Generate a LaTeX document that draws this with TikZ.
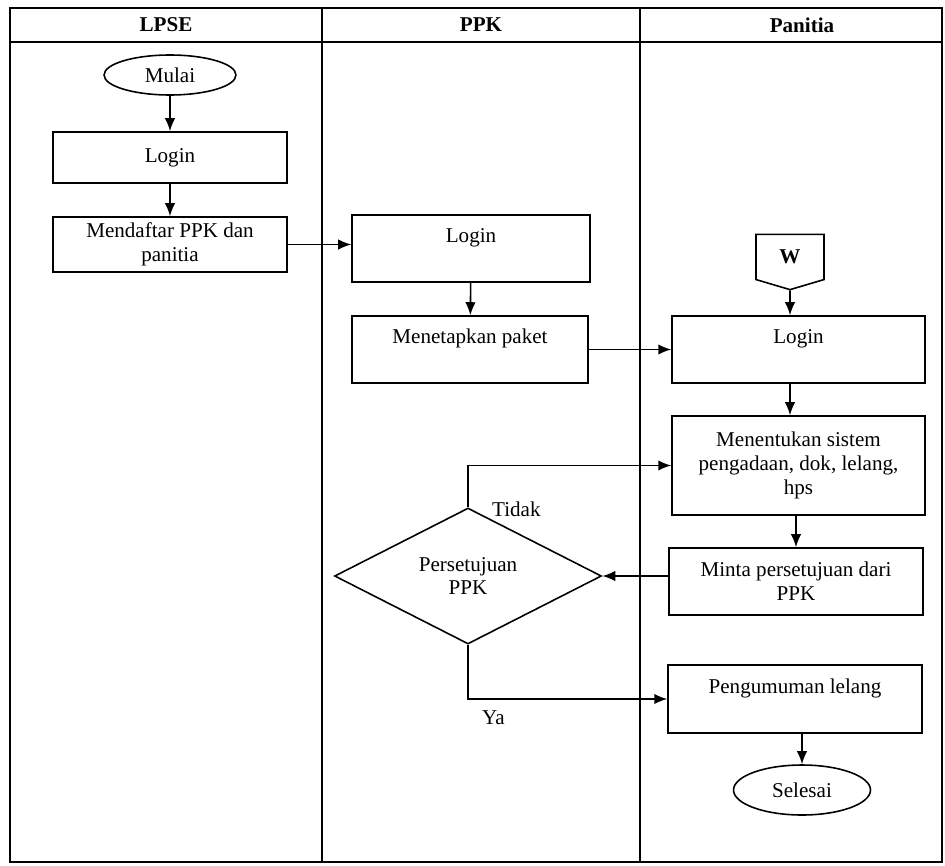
\documentclass[tikz,border=0pt]{standalone}
\usepackage{fontspec}
\setmainfont{Liberation Serif}
\usetikzlibrary{arrows.meta,positioning,shapes.geometric,shapes.symbols}

\begin{document}
\begin{tikzpicture}[
            x=0.02cm, y=-0.02cm, % one unit = one pixel of the page
            -{Latex[length=2.6mm,width=2.1mm]}, % arrow head style
            line width=0.9pt, % line style
            font=\fontsize{12}{13.5}\selectfont,
            box/.style={draw, rectangle, align=center, inner sep=2pt},
            atas/.style={text height=0.3cm, text depth=0.54cm}, % text near top
            ujung/.style={draw, ellipse, inner sep=0pt},
            judul/.style={font=\fontsize{12}{13.5}\selectfont\bfseries}
            ]
            \useasboundingbox (0,0) rectangle (945,865);

            % swimlanes
            \draw[-] (10,8) rectangle (942,862);
            \draw[-] (10,42) -- (942,42);
            \draw[-] (322,8) -- (322,862);
            \draw[-] (640,8) -- (640,862);
            \node[judul] (13) at (166,25) {LPSE};
            \node[judul] (14) at (481,25) {PPK};
            \node[judul] (15) at (802,25) {Panitia};

            \node[ujung, minimum width=2.64cm, minimum height=0.8cm] (1) at (170,75) {Mulai};
            \node[box, minimum width=4.68cm, minimum height=1.02cm] (2) at (170,157.5) {Login};
            \node[box, minimum width=4.68cm, minimum height=1.1cm] (3) at (170,244.5) {Mendaftar PPK dan\\panitia};

            \node[box, atas, minimum width=4.76cm, minimum height=1.34cm] (4) at (471,248.5) {Login};
            \node[box, atas, minimum width=4.72cm, minimum height=1.34cm] (5) at (470,349.5) {Menetapkan paket};
            \node[draw, diamond, minimum width=5.34cm, minimum height=2.64cm,
            inner sep=0pt, align=center] (12) at (468,576) {Persetujuan\\PPK};

            \node[draw, signal, signal to=south, signal pointer angle=147,
            minimum width=1.36cm, minimum height=1cm, judul] (6) at (790,257) {W};
            \node[box, atas, minimum width=5.06cm, minimum height=1.34cm] (7) at (798.5,349.5) {Login};
            \node[box, minimum width=5.06cm, minimum height=1.98cm] (8) at (798.5,465.5) {Menentukan sistem\\pengadaan, dok, lelang,\\hps};
            \node[box, minimum width=5.08cm, minimum height=1.34cm] (9) at (796,581.5) {Minta persetujuan dari\\PPK};
            \node[box, atas, minimum width=5.08cm, minimum height=1.36cm] (10) at (795,699) {Pengumuman lelang};
            \node[ujung, minimum width=2.74cm, minimum height=1cm] (11) at (802,790) {Selesai};

            \path (1) edge (2);
            \path (2) edge (3);
            \draw (3) -- (3 -| 4.west);
            \path (4) edge (5);
            \path (5) edge (7);
            \draw (6) -- (6 |- 7.north);
            \draw (7.south -| 6) -- (6 |- 8.north);
            \draw (8.south -| 9) -- (9);
            \draw (9.west |- 12) -- (12);
            \draw (12.north) |- node[pos=0, anchor=west, xshift=0.35cm, yshift=-0.05cm] {Tidak} (8);
            \draw (12.south) |- node[pos=0.5, below right=0.1cm and 0.15cm] {Ya} (10);
            \draw (10.south -| 11) -- (11);
        \end{tikzpicture}
\end{document}
